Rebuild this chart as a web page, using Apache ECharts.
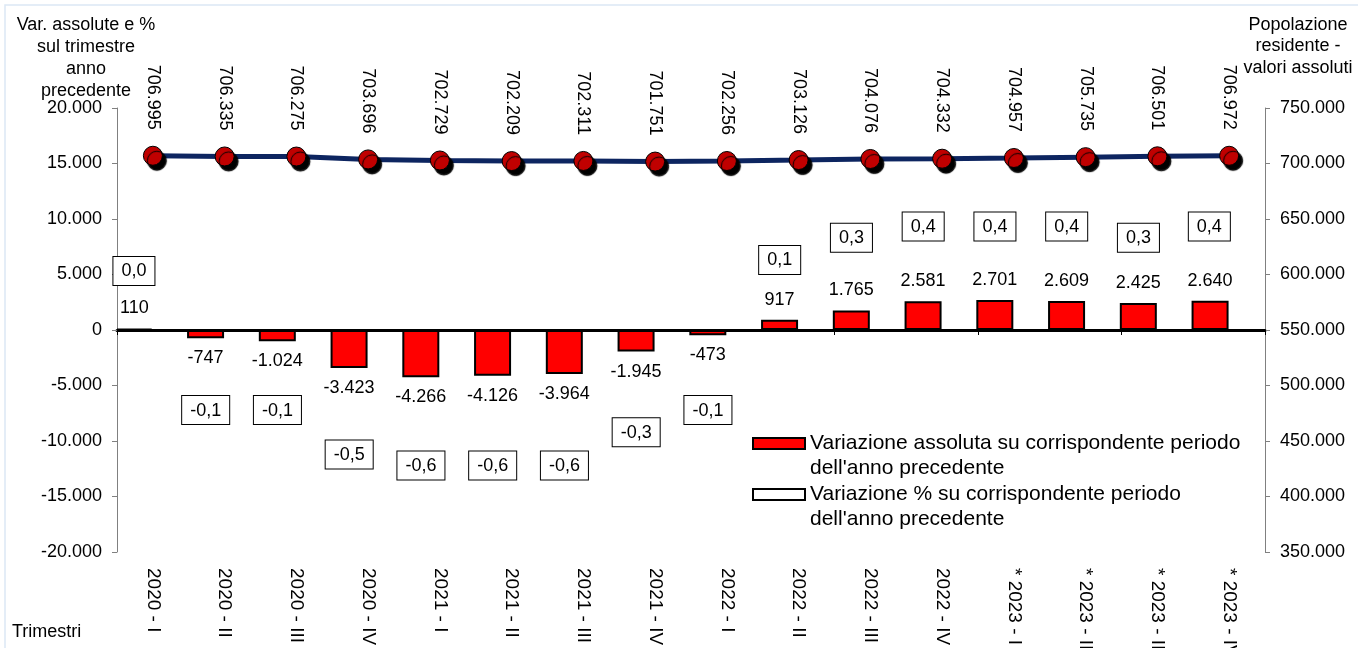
<!DOCTYPE html>
<html>
<head>
<meta charset="utf-8">
<script src="https://cdn.jsdelivr.net/npm/echarts@6/dist/echarts.min.js"></script>
<style>
html,body{margin:0;padding:0;background:#fff;}
#chart{width:1358px;height:648px;}
</style>
</head>
<body>
<div id="chart"></div>
<script>
const categories = ['2020 - I','2020 - II','2020 - III','2020 - IV','2021 - I','2021 - II','2021 - III','2021 - IV','2022 - I','2022 - II','2022 - III','2022 - IV','* 2023 - I','* 2023 - II','* 2023 - III','* 2023 - IV'];
const absVar = [110,-747,-1024,-3423,-4266,-4126,-3964,-1945,-473,917,1765,2581,2701,2609,2425,2640];
const pctVar = [0.0,-0.1,-0.1,-0.5,-0.6,-0.6,-0.6,-0.3,-0.1,0.1,0.3,0.4,0.4,0.4,0.3,0.4];
const population = [706995,706335,706275,703696,702729,702209,702311,701751,702256,703126,704076,704332,704957,705735,706501,706972];

const absName = "Variazione assoluta su corrispondente periodo\ndell'anno precedente";
const pctName = "Variazione % su corrispondente periodo\ndell'anno precedente";
const FONT = '"Liberation Sans", Arial, sans-serif';

function fmt(n){
  const s = String(Math.abs(Math.round(n))).replace(/\B(?=(\d{3})+(?!\d))/g, '.');
  return (n < 0 ? '-' : '') + s;
}
function fmtPct(v){ return v.toFixed(1).replace('.', ','); }

const chart = echarts.init(document.getElementById('chart'), null, {renderer:'canvas'});
const axisGray = '#808080';
const option = {
  animation:false,
  backgroundColor:'#fff',
  textStyle:{fontFamily:FONT},
  grid:{left:117, right:93, top:108, bottom:96, containLabel:false, outerBoundsMode:'none'},
  legend:{
    orient:'vertical', left:752, top:406, padding:0, itemGap:-24,
    itemWidth:52, itemHeight:11, icon:'rect',
    formatter:name=>'\n'+name,
    textStyle:{fontFamily:FONT, fontSize:21, color:'#000', lineHeight:25},
    data:[
      {name:absName, itemStyle:{color:'#ff0000', borderColor:'#000', borderWidth:2}},
      {name:pctName, itemStyle:{color:'#ffffff', borderColor:'#000', borderWidth:2}}
    ]
  },
  graphic:[
    {type:'rect', shape:{x:5, y:5, width:1400, height:700}, style:{fill:'none', stroke:'#dbe8f5', lineWidth:1.5}, silent:true},
    {type:'text', x:86, y:14, style:{text:'Var. assolute e %\nsul trimestre\nanno\nprecedente', align:'center', verticalAlign:'top', font:'18px '+FONT, lineHeight:22, fill:'#000'}},
    {type:'text', x:1298, y:14, style:{text:'Popolazione\nresidente -\nvalori assoluti', align:'center', verticalAlign:'top', font:'18px '+FONT, lineHeight:21.5, fill:'#000'}},
    {type:'text', x:12, y:632, style:{text:'Trimestri', align:'left', verticalAlign:'middle', font:'18px '+FONT, fill:'#000'}}
  ],
  xAxis:[
    {type:'category', data:categories, position:'bottom',
     axisLine:{show:true, onZero:true, onZeroAxisIndex:0, lineStyle:{color:'#000', width:3}},
     axisTick:{show:true, length:5, lineStyle:{color:'#000', width:1}},
     axisLabel:{show:false}, splitLine:{show:false}},
    {type:'category', data:categories, position:'bottom',
     axisLine:{show:false, onZero:false}, axisTick:{show:false},
     axisLabel:{show:true, rotate:-90, margin:16, fontSize:19, color:'#000', fontFamily:FONT, interval:0}}
  ],
  yAxis:[
    {type:'value', position:'left', min:-20000, max:20000, interval:5000,
     axisLine:{show:true, lineStyle:{color:axisGray, width:1}},
     axisTick:{show:true, length:5, lineStyle:{color:axisGray}},
     splitLine:{show:false},
     axisLabel:{margin:15, fontSize:18, color:'#000', fontFamily:FONT, formatter:fmt}},
    {type:'value', position:'right', min:350000, max:750000, interval:50000,
     axisLine:{show:true, lineStyle:{color:axisGray, width:1}},
     axisTick:{show:true, length:5, lineStyle:{color:axisGray}},
     splitLine:{show:false},
     axisLabel:{margin:15, fontSize:18, color:'#000', fontFamily:FONT, formatter:fmt}},
    {type:'value', show:false, min:-2, max:2, splitLine:{show:false}}
  ],
  series:[
    {name:absName, type:'bar', xAxisIndex:0, yAxisIndex:0, barWidth:37, barGap:'3%',
     itemStyle:{color:'#ff0000', borderColor:'#000', borderWidth:2},
     label:{show:true, distance:11, fontSize:18, color:'#000', fontFamily:FONT, formatter:p=>fmt(p.value)},
     data:absVar.map(v=>({value:v, label:{position: v>=0 ? 'top':'bottom'}}))},
    {name:pctName, type:'bar', xAxisIndex:0, yAxisIndex:2, barWidth:37, barGap:'3%',
     itemStyle:{color:'rgba(0,0,0,0)', borderWidth:0},
     label:{show:true, offset:[-38,0], fontSize:18, color:'#000', fontFamily:FONT,
       backgroundColor:'#fff', borderColor:'#000', borderWidth:1, padding:[5,8,4,8], lineHeight:19,
       formatter:p=>fmtPct(p.value)},
     data:pctVar.map(v=>({value:v, label:{position: v>=0 ? 'top':'bottom', distance: v>=0 ? 45 : 55}}))},
    {name:'Popolazione residente', type:'line', xAxisIndex:0, yAxisIndex:1, z:5,
     symbol:'circle', symbolSize:19,
     lineStyle:{color:'#0d2560', width:5},
     itemStyle:{color:'#c00000', borderColor:'#000', borderWidth:1, shadowColor:'#000', shadowOffsetX:4, shadowOffsetY:5, shadowBlur:1},
     label:{show:true, position:'top', distance:16, rotate:-90, align:'right', verticalAlign:'middle', fontSize:18, color:'#000', fontFamily:FONT, formatter:p=>fmt(p.value)},
     data:population}
  ]
};
chart.setOption(option);
</script>
</body>
</html>
